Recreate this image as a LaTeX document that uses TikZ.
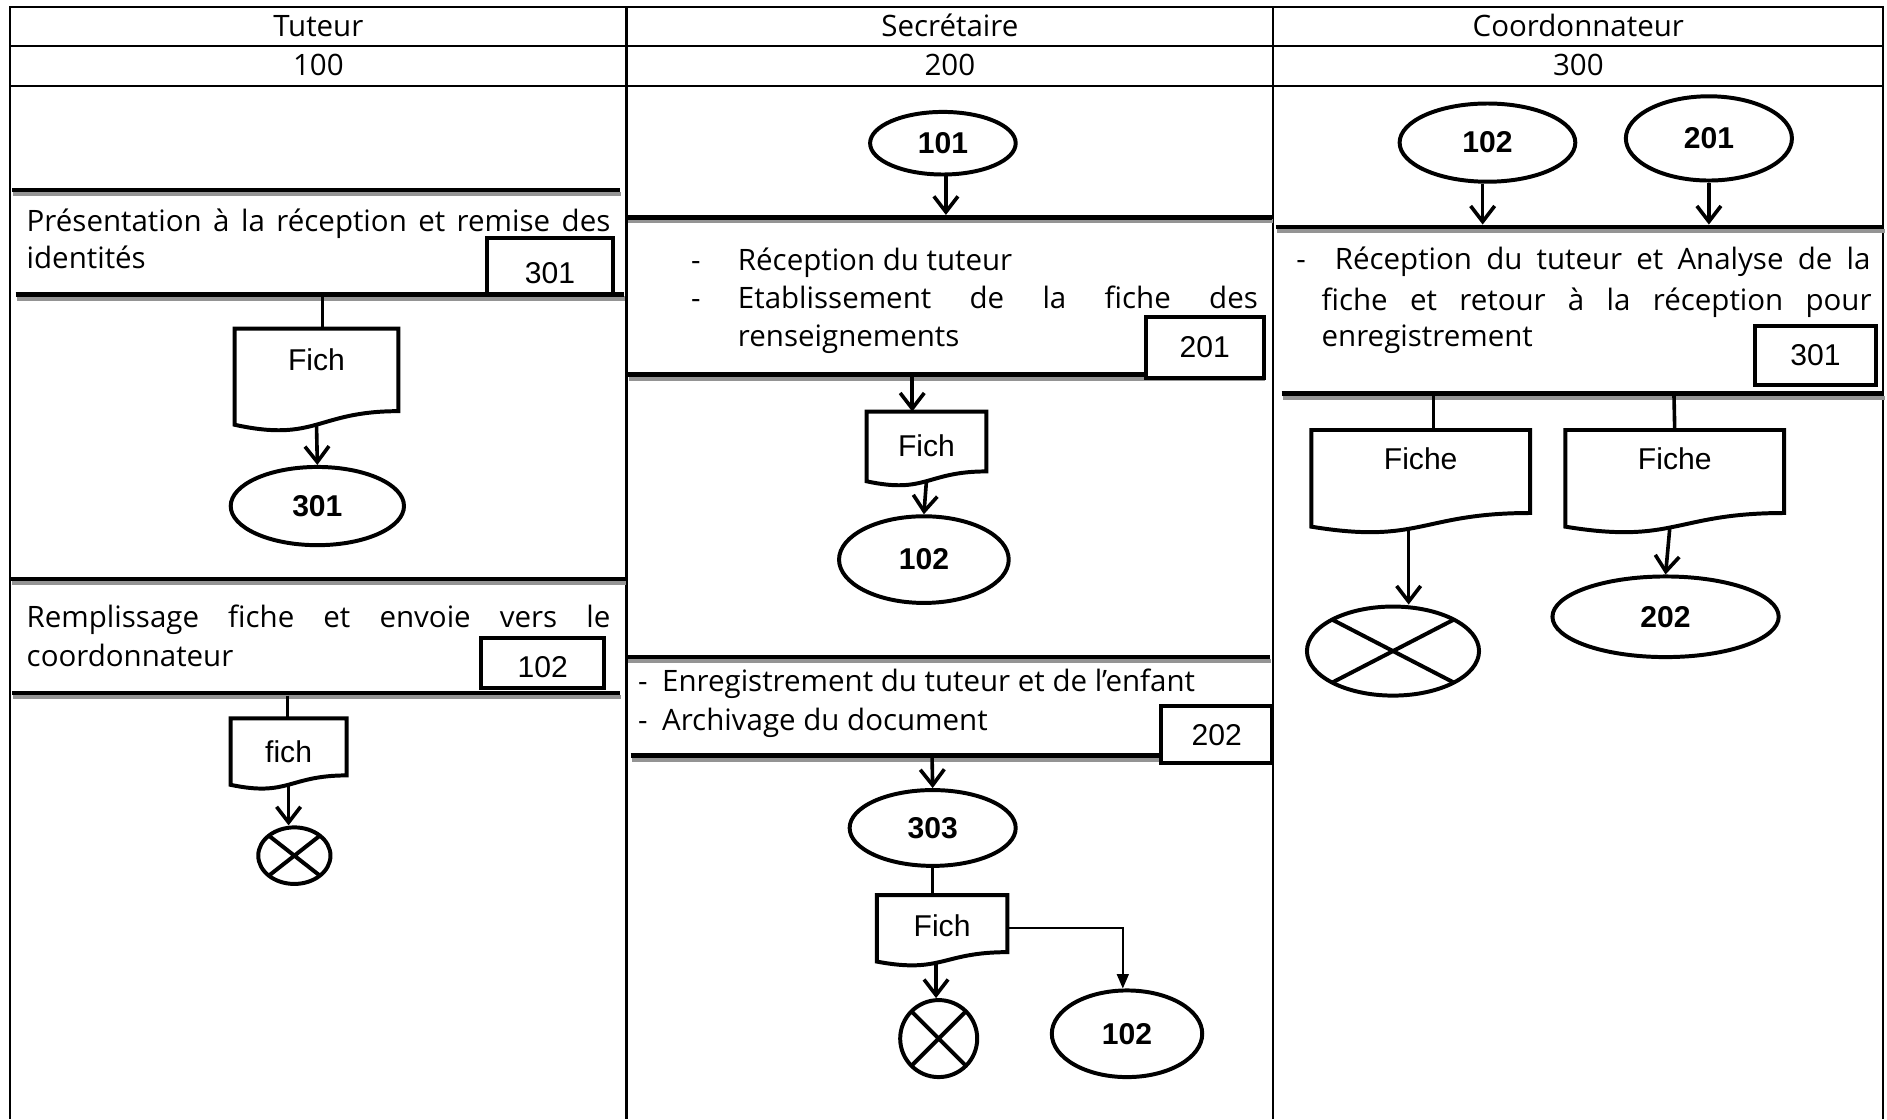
\documentclass[tikz,border=0pt]{standalone}
\usepackage{fontspec}
\setmainfont{Open Sans}
\newfontfamily\arialfont{Liberation Sans}
\usetikzlibrary{shapes.geometric,arrows.meta}

\tikzset{
  tbl/.style={line width=1.7pt},
  barline/.style={line width=3.8pt, black},
  barshade/.style={line width=3.4pt, black!42},
  shp/.style={line width=3.3pt, line join=miter},
  ell/.style={ellipse, draw, shp, inner sep=0pt, font=\arialfont\bfseries\fontsize{25}{30}\selectfont},
  cross/.style={ell, path picture={
      \draw[line width=3.3pt]
        (path picture bounding box.north west) -- (path picture bounding box.south east)
        (path picture bounding box.north east) -- (path picture bounding box.south west);}},
  numbox/.style={rectangle, draw, shp, fill=white, inner sep=0pt, font=\arialfont\fontsize{25}{30}\selectfont},
  docnode/.style={rectangle, inner sep=0pt, outer sep=0pt, anchor=north, font=\arialfont\fontsize{25}{30}\selectfont},
  txt/.style={anchor=base west, inner sep=0pt, font=\fontsize{24.5}{29}\selectfont},
  head/.style={anchor=base, inner sep=0pt, font=\fontsize{24.5}{29}\selectfont},
  arr/.style={line width=3pt, -{Straight Barb[length=13pt,width=20pt]}},
  link/.style={line width=3pt},
  thinarr/.style={line width=1.3pt, -{Triangle[length=12pt,width=10pt]}},
}

% document symbol: name, centre x, top y, width, height, label offset, label
\newcommand\docshape[7]{%
  \pgfmathsetmacro\dxl{#2-#4/2}%
  \pgfmathsetmacro\dxr{#2+#4/2}%
  \pgfmathsetmacro\dyr{#3+0.802*#5}%
  \pgfmathsetmacro\dyc{#3+1.1075*#5}%
  \pgfmathsetmacro\dyl{#3+0.934*#5}%
  \pgfmathsetmacro\dhh{0.933*#5}%
  \pgfmathsetmacro\dtd{max(0,2*(0.4665*#5-#6))}%
  \draw[shp] (\dxl,#3) -- (\dxr,#3) -- (\dxr,\dyr)
     .. controls (#2,\dyr) and (#2,\dyc) .. (\dxl,\dyl) -- cycle;
  \node[docnode, minimum width=#4pt, minimum height=\dhh pt,
        text height=17.9pt, text depth=\dtd pt] (#1) at (#2,#3) {#7};
}

% thick separator with its grey shadow
\newcommand\sepbar[3]{%
  \draw[barshade] (#1+1,#3+3.5) -- (#2+1,#3+3.5);
  \draw[barline] (#1,#3) -- (#2,#3);
}

\begin{document}
\begin{tikzpicture}[x=1pt,y=-1pt]
\useasboundingbox (0,0) rectangle (1568,930);

% ---------- table frame ----------
\draw[tbl] (8.5,930) -- (8.5,5.5) -- (1565,5.5) -- (1565,930);
\draw[tbl] (520.6,5.5) -- (520.6,930);
\draw[tbl] (1058,5.5) -- (1058,930);
\draw[tbl] (8.5,38.5) -- (1565,38.5);
\draw[tbl] (8.5,71.5) -- (1565,71.5);

\node[head] (hT) at (264.5,30) {Tuteur};
\node[head] (hS) at (789.3,30) {Secrétaire};
\node[head] (hC) at (1311.5,30) {Coordonnateur};
\node[head] (nT) at (264.5,62.5) {100};
\node[head] (nS) at (789.3,62.5) {200};
\node[head] (nC) at (1311.5,62.5) {300};

% ---------- separators ----------
\sepbar{10}{515}{158}
\sepbar{13}{518.5}{244.5}
\sepbar{9}{519}{481}
\sepbar{10}{515}{576}
\sepbar{521}{1057}{180.5}
\sepbar{522}{1050}{311}
\sepbar{521}{1055}{546}
\sepbar{524}{1054}{628}
\sepbar{1060}{1565}{188.5}
\sepbar{1065}{1565}{327}

% ---------- texts ----------
\node[txt] (tx1) at (22,192.5) {\makebox[485pt][s]{Présentation à la réception et remise des}};
\node[txt] (tx2) at (22,223) {identités};
\node[txt] (tx3) at (22,521) {\makebox[485pt][s]{Remplissage fiche et envoie vers le}};
\node[txt] (tx4) at (22,554) {coordonnateur};

\node[txt] (tx5d) at (574,224.5) {-};
\node[txt] (tx5) at (613,224.5) {Réception du tuteur};
\node[txt] (tx6d) at (574,256) {-};
\node[txt] (tx6) at (613,256) {\makebox[432pt][s]{Etablissement de la fiche des}};
\node[txt] (tx7) at (613,288) {renseignements};
\node[txt] (tx8d) at (530,575) {-};
\node[txt] (tx8) at (550,575) {Enregistrement du tuteur et de l’enfant};
\node[txt] (tx9d) at (530,607) {-};
\node[txt] (tx9) at (550,607) {Archivage du document};

\node[txt] (tx10d) at (1077,224) {-};
\node[txt] (tx10) at (1109,224) {\makebox[445pt][s]{Réception du tuteur et Analyse de la}};
\node[txt] (tx11) at (1098,258) {\makebox[457pt][s]{fiche et retour à la réception pour}};
\node[txt] (tx12) at (1098,288) {enregistrement};

% ---------- reference boxes ----------
\node[numbox, minimum width=104pt, minimum height=46pt, text height=29.9pt] (b1) at (457,221) {301};
\node[numbox, minimum width=102pt, minimum height=42pt, text height=23.9pt] (b2) at (451,551) {102};
\node[numbox, minimum width=98pt, minimum height=51pt] (b3) at (1001,288.5) {201};
\node[numbox, minimum width=92pt, minimum height=47pt] (b4) at (1011,610.5) {202};
\node[numbox, minimum width=101pt, minimum height=49pt] (b5) at (1508.5,295.5) {301};

% ---------- documents ----------
\docshape{d1}{263}{273}{136}{85.6}{26}{Fich}
\docshape{d2}{239.8}{597}{96.5}{59}{28}{fich}
\docshape{d3}{769.8}{342}{99.5}{62}{28.5}{Fich}
\docshape{d4}{782.8}{743.7}{108.5}{59.2}{25.5}{Fich}
\docshape{d5}{1180.5}{357.3}{181.8}{86}{24}{Fiche}
\docshape{d6}{1391.6}{357.3}{181.8}{86}{24}{Fiche}

% ---------- connectors (ellipses) ----------
\node[ell, minimum width=144pt, minimum height=65pt] (e301) at (263.7,420.5) {301};
\node[cross, minimum width=60pt, minimum height=47pt] (x1) at (244.6,711) {};
\node[ell, minimum width=121pt, minimum height=52pt] (e101) at (783.5,119) {101};
\node[ell, minimum width=141pt, minimum height=72pt] (e102a) at (767.7,465) {102};
\node[ell, minimum width=138pt, minimum height=63pt] (e303) at (775,688) {303};
\node[cross, minimum width=64pt, minimum height=64pt] (x2) at (780,863) {};
\node[ell, minimum width=125pt, minimum height=72pt] (e102b) at (936.5,859) {102};
\node[ell, minimum width=146pt, minimum height=65pt] (e102c) at (1236,118.5) {102};
\node[ell, minimum width=138pt, minimum height=70pt] (e201) at (1420,115) {201};
\node[cross, minimum width=143pt, minimum height=74pt] (x3) at (1157.5,541) {};
\node[ell, minimum width=188pt, minimum height=67pt] (e202) at (1384,512.5) {202};

% ---------- anchor points on separators ----------
\coordinate (pT2) at (268,246.5);
\coordinate (pT4) at (239,578);
\coordinate (pS1) at (786,178.6);
\coordinate (pS2) at (758,313);
\coordinate (pS4) at (774.5,630);
\coordinate (pC1a) at (1232,186.6);
\coordinate (pC1b) at (1420,186.6);
\coordinate (pC2a) at (1191,329);
\coordinate (pC2b) at (1391,329);

% ---------- flows ----------
\draw[link] (pT2) -- (pT2 |- d1.north);
\draw[arr] (d1.south) -- (e301.north);
\draw[link] (pT4) -- (pT4 |- d2.north);
\draw[arr] (d2.south) -- (d2.south |- x1.north);

\draw[arr] (e101.south -| pS1) -- (pS1);
\draw[arr] (pS2) -- (pS2 |- d3.north);
\draw[arr] (d3.south) -- (e102a.north);
\draw[arr] (pS4) -- (e303.north);
\draw[link] (e303.south) -- (e303.south |- d4.north);
\draw[arr] ([xshift=-5pt]d4.south) -- ([xshift=-5pt]d4.south |- x2.north);
\draw[thinarr] (d4.east) -| ([xshift=-3.5pt]e102b.north);

\draw[arr] (e102c.south -| pC1a) -- (pC1a);
\draw[arr] (e201.south -| pC1b) -- (pC1b);
\draw[link] (pC2a) -- (pC2a |- d5.north);
\draw[link] (pC2b) -- (d6.north);
\draw[arr] ([xshift=-10pt]d5.south) -- ([xshift=-10pt]d5.south |- x3.north);
\draw[arr] ([xshift=-4pt]d6.south) -- (e202.north);
\end{tikzpicture}
\end{document}
